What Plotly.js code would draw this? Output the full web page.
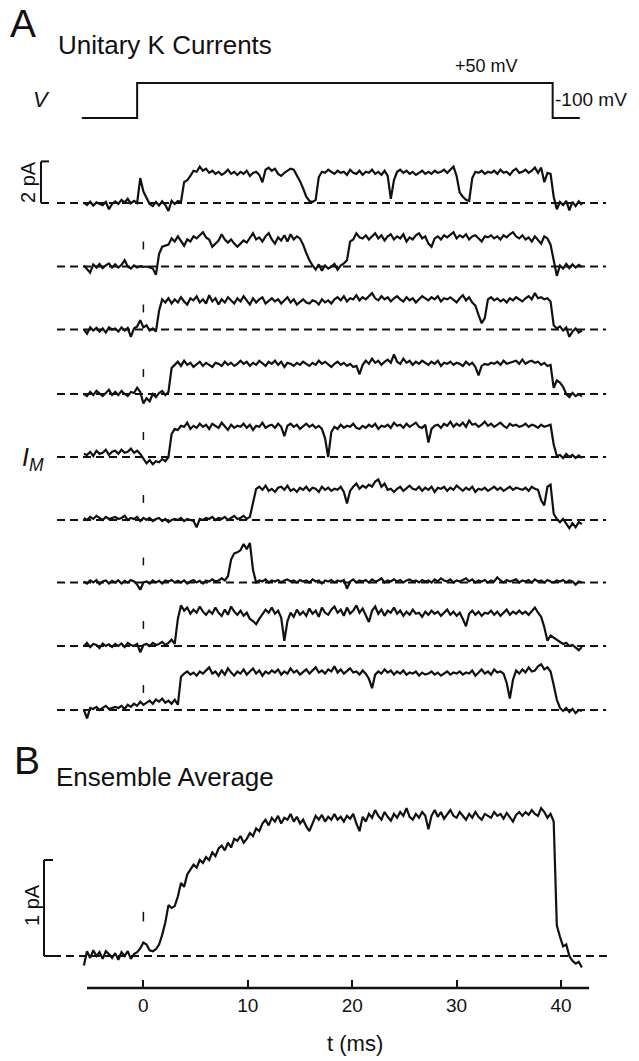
<!DOCTYPE html>
<html><head><meta charset="utf-8">
<script src="https://cdn.plot.ly/plotly-3.0.1.min.js"></script>
<style>html,body{margin:0;padding:0;background:#fff}#chart{width:639px;height:1061px}</style>
</head><body><div id="chart"></div>
<script>
// ---- data (pA, sampled every dt ms starting at t0) ----
const t0 = -5.7, dt = 0.3;
const trace1 = [
0.02,-0.1,0.06,-0.12,0.03,-0.02,-0.1,0.05,-0.3,-0.05,
0.08,-0.04,0.15,0.02,0.2,-0.02,0.1,0.0,1.2,0.55,
0.25,-0.05,-0.15,0.05,-0.12,0.08,-0.1,-0.38,0.1,-0.05,
0.1,0.05,1.0,1.1,1.3,1.55,1.5,1.75,1.55,1.65,
1.45,1.55,1.4,1.5,1.35,1.45,1.6,1.4,1.5,1.35,
1.5,1.4,1.55,1.3,1.45,1.5,1.35,1.0,1.6,1.7,
1.55,1.65,1.4,1.3,1.45,1.55,1.65,1.6,1.35,1.05,
0.7,0.3,0.1,0.05,0.15,1.25,1.5,1.45,1.6,1.5,
1.4,1.55,1.45,1.5,1.35,1.6,1.45,1.4,1.55,1.35,
1.5,1.45,1.6,1.4,1.5,1.35,1.55,1.3,0.2,1.1,
1.5,1.6,1.45,1.55,1.4,1.5,1.35,1.45,1.55,1.4,
1.5,1.4,1.55,1.45,1.5,1.6,1.45,1.6,1.75,1.3,
0.5,0.3,0.15,0.1,1.2,1.5,1.45,1.55,1.4,1.5,
1.45,1.55,1.4,1.6,1.45,1.5,1.35,1.55,1.65,1.45,
1.5,1.6,1.45,1.55,1.7,1.45,1.7,1.0,1.45,1.4,
0.3,-0.3,0.05,-0.1,0.1,-0.35,0.05,-0.15,0.08,-0.1];
const trace2 = [
0.05,-0.1,-0.3,0.1,-0.05,0.12,-0.08,0.05,0.15,-0.05,
0.1,-0.05,0.08,0.3,0.0,-0.1,0.05,-0.05,0.02,-0.02,
0.0,-0.05,-0.1,-0.4,0.6,0.95,1.0,1.05,1.35,1.2,
1.45,1.2,1.0,1.3,1.2,1.45,1.35,1.5,1.65,1.4,
1.3,0.95,1.1,1.25,1.55,1.3,1.15,1.3,1.1,0.95,
1.1,1.25,1.15,1.35,1.6,1.3,1.4,1.2,1.45,1.6,
1.3,1.1,1.4,1.25,1.5,1.2,1.55,1.3,1.45,1.35,
1.05,0.65,0.3,0.05,-0.15,0.1,-0.2,0.05,-0.1,0.0,
0.12,-0.15,0.05,0.15,0.3,1.2,1.3,1.6,1.4,1.35,
1.5,1.3,1.45,1.6,1.35,1.5,1.25,1.45,1.55,1.3,
1.45,1.35,1.55,1.2,1.4,1.3,1.5,1.6,1.35,1.45,
1.1,0.95,1.35,1.45,1.3,1.5,1.4,1.55,1.65,1.35,
1.5,1.4,1.55,1.3,1.45,1.5,1.35,1.2,1.45,1.4,
1.5,1.35,1.45,1.3,1.5,1.4,1.55,1.65,1.45,1.35,
1.5,1.3,1.4,1.2,1.45,1.3,1.1,1.45,1.35,1.05,
0.3,-0.45,0.05,-0.1,0.12,-0.08,0.1,-0.05,0.08,-0.02];
const trace3 = [
0.0,-0.2,0.1,-0.05,0.08,-0.1,0.05,-0.15,0.1,0.0,
0.05,-0.1,0.1,-0.05,0.08,-0.35,0.05,0.15,0.45,0.1,
0.2,-0.05,0.05,-0.1,0.9,1.45,1.3,1.5,1.25,1.45,
1.3,1.55,1.35,1.2,1.5,1.4,1.6,1.3,1.45,1.25,
1.65,1.35,1.5,1.2,1.45,1.3,1.55,1.4,1.25,1.5,
1.35,1.6,1.4,1.2,1.5,1.3,1.45,1.55,1.25,1.4,
1.5,1.35,1.45,1.25,1.4,1.55,1.3,1.45,1.2,1.35,
1.45,1.3,1.25,1.4,1.35,1.2,1.45,1.3,1.4,1.25,
1.45,1.55,1.4,1.6,1.35,1.5,1.45,1.65,1.4,1.55,
1.45,1.6,1.75,1.5,1.4,1.6,1.45,1.55,1.35,1.5,
1.6,1.45,1.35,1.55,1.4,1.5,1.3,1.45,1.6,1.5,
1.4,1.55,1.45,1.6,1.35,1.5,1.45,1.55,1.4,1.3,
1.5,1.65,1.4,1.55,1.3,1.15,0.7,0.3,0.55,1.45,
1.55,1.4,1.5,1.35,1.45,1.3,1.5,1.4,1.55,1.45,
1.35,1.5,1.6,1.45,1.75,1.5,1.55,1.45,1.5,1.35,
0.2,0.05,0.15,-0.05,0.1,-0.35,-0.1,0.05,-0.15,-0.05];
const trace4 = [
0.0,-0.1,0.1,-0.05,0.15,0.0,-0.1,0.05,0.2,-0.05,
0.1,-0.05,0.15,0.0,-0.1,0.1,0.05,0.3,0.1,-0.45,
-0.2,-0.35,0.0,-0.15,0.05,0.15,-0.05,0.1,1.25,1.4,
1.55,1.35,1.6,1.4,1.5,1.3,1.45,1.55,1.35,1.5,
1.4,1.3,1.5,1.45,1.35,1.55,1.4,1.5,1.35,1.45,
1.6,1.45,1.55,1.35,1.5,1.4,1.6,1.45,1.35,1.55,
1.45,1.6,1.4,1.55,1.3,1.5,1.45,1.35,1.5,1.4,
1.55,1.45,1.35,1.5,1.4,1.6,1.45,1.55,1.4,1.3,
1.45,1.55,1.4,1.5,1.35,1.45,1.3,1.35,0.95,1.4,
1.6,1.45,1.7,1.5,1.6,1.4,1.55,1.65,1.5,1.9,
1.55,1.45,1.7,1.5,1.6,1.4,1.55,1.45,1.6,1.5,
1.4,1.55,1.45,1.6,1.35,1.5,1.45,1.55,1.4,1.5,
1.45,1.35,1.55,1.4,1.5,1.3,0.9,1.35,1.45,1.4,
1.5,1.45,1.55,1.4,1.6,1.45,1.5,1.55,1.6,1.45,
1.65,1.45,1.55,1.6,1.5,1.55,1.4,1.5,1.35,1.4,
0.3,0.65,0.55,0.35,0.0,-0.15,0.05,-0.1,0.0,-0.12];
const trace5 = [
0.15,0.1,0.25,0.05,0.3,0.15,0.2,0.35,0.1,0.25,
0.3,0.15,0.35,0.2,0.25,0.4,0.2,0.3,0.15,-0.1,
-0.3,-0.15,-0.35,-0.2,-0.25,-0.1,-0.2,0.0,1.1,1.35,
1.3,1.5,1.45,1.65,1.35,1.5,1.4,1.6,1.45,1.55,
1.35,1.6,1.5,1.4,1.65,1.45,1.3,1.55,1.4,1.5,
1.45,1.6,1.4,1.55,1.3,1.5,1.45,1.65,1.4,1.5,
1.55,1.4,1.6,1.45,1.0,1.5,1.6,1.45,1.55,1.35,
1.5,1.6,1.45,1.55,1.4,1.5,1.35,0.9,0.0,1.2,
1.45,1.35,1.55,1.4,1.5,1.45,1.6,1.4,1.35,1.5,
1.4,1.55,1.45,1.6,1.35,1.5,1.45,1.55,1.4,1.65,
1.5,1.55,1.4,1.6,1.45,1.55,1.65,1.45,1.4,1.55,
0.7,1.35,1.5,1.55,1.4,1.6,1.5,1.7,1.45,1.6,
1.5,1.65,1.45,1.75,1.55,1.6,1.45,1.55,1.7,1.5,
1.6,1.45,1.55,1.65,1.5,1.4,1.6,1.5,1.55,1.45,
1.5,1.6,1.45,1.55,1.5,1.4,1.55,1.45,1.5,1.55,
0.6,0.05,0.1,-0.05,0.15,0.0,0.1,-0.05,0.08,-0.05];
const trace6 = [
0.1,0.0,0.15,0.05,0.2,0.1,0.0,0.15,0.05,0.1,
0.15,0.05,0.1,0.2,0.0,0.1,0.05,0.15,-0.05,0.1,
0.0,0.1,-0.05,0.05,0.1,-0.05,0.05,-0.1,0.0,0.05,
0.0,0.1,-0.05,0.05,0.0,-0.05,-0.35,0.05,0.0,0.1,
0.05,0.15,0.0,0.1,0.05,0.15,0.0,0.1,0.2,0.05,
0.1,0.2,0.05,0.15,0.9,1.5,1.6,1.45,1.65,1.4,
1.5,1.35,1.55,1.6,1.45,1.65,1.4,1.5,1.35,1.55,
1.45,1.6,1.4,1.55,1.5,1.35,1.6,1.45,1.55,1.4,
1.5,1.45,1.6,1.35,0.8,1.4,1.6,1.75,1.5,1.65,
1.55,1.7,1.6,1.85,1.95,1.6,1.75,1.45,1.5,1.35,
1.5,1.6,1.4,1.55,1.65,1.5,1.45,1.6,1.4,1.55,
1.45,1.6,1.35,1.55,1.5,1.6,1.4,1.55,1.45,1.65,
1.5,1.4,1.55,1.45,1.6,1.35,1.5,1.45,1.55,1.4,
1.5,1.6,1.45,1.55,1.4,1.5,1.6,1.45,1.55,1.5,
1.45,1.55,1.4,1.6,1.5,1.45,0.95,0.7,1.6,1.7,
0.3,0.05,-0.1,0.05,-0.2,-0.4,-0.15,-0.35,-0.1,-0.2];
const trace7 = [
0.05,-0.05,0.1,0.0,0.12,-0.08,0.05,0.1,-0.05,0.08,
0.0,0.1,-0.05,0.08,0.0,0.12,0.05,-0.1,-0.35,0.0,
0.05,-0.05,0.1,0.0,0.08,-0.05,0.1,0.05,0.12,0.0,
0.08,0.0,0.1,-0.05,0.05,0.12,0.0,0.08,-0.05,0.1,
0.05,0.15,0.05,0.1,0.2,0.1,0.3,1.1,1.4,1.45,
1.55,1.85,1.6,1.9,0.6,0.0,0.1,0.05,0.15,0.0,
0.1,0.05,0.12,0.0,0.1,0.15,0.05,0.1,0.0,0.12,
0.05,0.1,0.0,0.15,0.05,0.1,-0.05,0.1,0.05,0.12,
0.0,0.1,0.05,0.12,-0.3,0.05,0.15,0.0,0.1,0.05,
0.12,0.0,0.15,0.05,0.1,0.2,0.0,0.1,0.05,0.15,
0.05,0.12,0.0,0.1,0.15,0.05,0.1,0.0,0.12,0.05,
0.1,0.0,0.15,0.05,0.2,0.1,0.05,0.15,0.0,0.1,
0.05,0.12,0.2,0.05,0.15,0.0,0.1,0.05,0.12,0.0,
0.1,0.05,0.25,0.1,0.0,0.12,0.05,0.1,0.15,0.0,
0.1,0.05,0.12,0.0,0.15,0.05,0.1,0.0,0.12,0.05,
0.0,0.1,0.05,0.12,0.0,0.1,0.05,-0.1,0.05,0.0];
const trace8 = [
0.0,0.15,-0.05,0.1,0.05,-0.1,0.12,0.0,0.08,-0.05,
0.1,0.0,0.12,-0.05,0.15,0.05,0.0,0.1,-0.3,0.05,
0.1,0.0,0.15,0.05,0.1,0.2,0.05,0.15,0.3,0.1,
1.3,1.95,1.7,1.85,1.55,1.75,1.6,1.9,1.65,1.5,
1.7,1.55,1.85,1.6,1.45,1.75,1.5,1.9,1.65,1.5,
1.7,1.45,1.6,1.3,1.2,1.05,1.3,1.5,1.75,1.6,
1.85,1.55,1.7,1.35,0.25,1.2,1.6,1.4,1.75,1.5,
1.65,1.45,1.8,1.55,1.7,1.4,1.85,1.6,1.5,1.75,
1.9,1.6,1.75,1.45,1.85,1.55,1.7,1.95,1.6,1.8,
1.5,1.15,1.7,1.9,1.55,1.75,1.45,1.7,1.6,1.85,
1.55,1.7,1.45,1.65,1.5,1.75,1.55,1.6,1.4,1.65,
1.5,1.7,1.55,1.65,1.45,1.6,1.75,1.5,1.65,1.45,
1.6,1.3,0.95,1.55,1.7,1.5,1.65,1.45,1.6,1.55,
1.7,1.5,1.65,1.45,1.6,1.75,1.5,1.65,1.55,1.7,
1.55,1.65,1.5,1.7,1.85,1.6,1.4,0.9,0.25,0.5,
0.4,0.3,0.2,0.1,0.15,0.0,0.05,-0.1,-0.2,-0.05];
const trace9 = [
0.0,-0.4,0.1,0.05,0.15,0.0,0.1,0.2,0.05,0.1,
0.15,0.1,0.2,0.05,0.25,0.15,0.3,0.2,0.4,0.25,
0.35,0.45,0.3,0.5,0.4,0.55,0.35,0.45,0.3,0.5,
0.25,1.6,1.75,1.85,1.7,1.8,1.65,1.85,1.75,1.9,
2.05,1.75,1.85,1.65,1.9,1.7,2.0,1.8,1.65,1.85,
1.75,1.95,1.7,1.85,2.0,1.75,1.9,1.65,1.85,1.75,
1.9,1.8,1.95,1.7,1.85,1.75,2.0,1.8,1.9,1.7,
1.85,1.95,1.75,1.9,2.05,1.8,1.9,1.75,1.95,1.85,
2.1,1.8,1.95,1.75,1.9,2.0,1.8,1.85,1.7,1.9,
1.75,1.5,1.05,1.7,1.85,1.75,1.95,1.8,1.9,1.7,
1.85,1.75,1.9,1.7,1.8,1.75,1.85,1.65,1.8,1.7,
1.75,1.85,1.7,1.8,1.65,1.75,1.85,1.7,1.8,1.75,
1.85,1.7,1.8,1.75,1.9,1.65,1.8,1.95,1.75,1.85,
1.7,1.95,1.8,1.85,1.75,1.3,0.55,1.45,1.9,1.75,
1.95,1.8,2.05,1.85,1.9,2.1,2.2,1.95,2.05,1.85,
1.2,0.5,0.1,-0.05,0.1,-0.1,0.05,-0.15,0.0,-0.05];
const ensembleAvg = [
-0.1,0.05,-0.02,0.06,0.0,0.04,-0.03,0.05,0.02,-0.02,
0.03,-0.04,0.04,0.0,0.05,-0.03,0.02,0.04,0.08,0.14,
0.12,0.06,0.05,0.07,0.12,0.22,0.35,0.53,0.5,0.52,
0.62,0.76,0.72,0.85,0.9,0.95,0.92,1.0,0.97,1.03,
1.0,1.08,1.04,1.12,1.15,1.1,1.18,1.13,1.22,1.2,
1.25,1.18,1.22,1.28,1.25,1.33,1.3,1.38,1.42,1.36,
1.44,1.4,1.46,1.38,1.44,1.42,1.48,1.4,1.45,1.38,
1.42,1.35,1.3,1.38,1.46,1.42,1.47,1.4,1.45,1.42,
1.48,1.42,1.45,1.4,1.46,1.43,1.48,1.38,1.3,1.45,
1.4,1.48,1.44,1.52,1.46,1.42,1.5,1.45,1.41,1.48,
1.44,1.5,1.46,1.54,1.45,1.42,1.48,1.44,1.5,1.46,
1.32,1.46,1.52,1.45,1.5,1.43,1.48,1.52,1.46,1.44,
1.5,1.46,1.42,1.48,1.44,1.5,1.45,1.42,1.48,1.46,
1.44,1.5,1.46,1.48,1.43,1.49,1.45,1.4,1.47,1.5,
1.46,1.5,1.47,1.52,1.48,1.46,1.54,1.5,1.44,1.48,
1.4,0.32,0.2,0.1,0.12,0.0,-0.05,-0.08,-0.06,-0.12];
const voltTime = [-5.9,-0.6,-0.6,39.2,39.2,41.8];
const voltLevel = [-100,-100,50,50,-100,-100];
const xTickVals = [0,10,20,30,40];
const xTickText = ['0','10','20','30','40'];
const unitary = [trace1,trace2,trace3,trace4,trace5,trace6,trace7,trace8,trace9];

// ---- geometry (pixels in the 639x1061 page) ----
const W=639, H=1061;
const pxT0=143.4, pxPerMs=10.44;
const xRange=[-pxT0/pxPerMs,(W-pxT0)/pxPerMs];
const aBase=[203,266.5,329.5,394,457,520,582.5,646,710];
const aPx=20.8;
const aRange=[(aBase[0]-H)/aPx, aBase[0]/aPx];
const offs=aBase.map(b=>(aBase[0]-b)/aPx);
const bBase=956, bPx=96;
const bRange=[(bBase-H)/bPx, bBase/bPx];
const vTop=83, vBot=118, vPx=(vBot-vTop)/150;
const vRange=[-100-(H-vBot)/vPx, -100+vBot/vPx];
const axisY=988;
const tx=p=>(p-pxT0)/pxPerMs;   // page px -> ms
const py=p=>1-p/H;              // page px -> paper
const FONT='"Liberation Sans", Arial, Helvetica, sans-serif';
const INK='#111';
const LW=2.2;

const time = trace1.map((_,i)=>+(t0+i*dt).toFixed(2));
const data=[];
unitary.forEach((tr,k)=>{
  data.push({x:time,y:tr.map(v=>v+offs[k]),type:'scatter',mode:'lines',xaxis:'x',yaxis:'y',
    line:{color:INK,width:LW},hoverinfo:'skip'});
});
data.push({x:time,y:ensembleAvg,type:'scatter',mode:'lines',xaxis:'x',yaxis:'y2',
  line:{color:INK,width:LW},hoverinfo:'skip'});
data.push({x:voltTime,y:voltLevel,type:'scatter',mode:'lines',xaxis:'x',yaxis:'y3',
  line:{color:INK,width:2},hoverinfo:'skip'});

const shapes=[];
const dash={color:INK,width:2,dash:'8px,5px'};
offs.forEach((o,k)=>{
  shapes.push({type:'line',xref:'x',yref:'y',x0:tx(57),x1:tx(606),y0:o,y1:o,line:dash,layer:'below'});
  if(k>0) shapes.push({type:'line',xref:'x',yref:'y',x0:0,x1:0,y0:o+0.82,y1:o+1.2,line:{color:INK,width:1.5}});
});
shapes.push({type:'line',xref:'x',yref:'y2',x0:tx(53),x1:tx(610),y0:0,y1:0,line:dash,layer:'below'});
shapes.push({type:'line',xref:'x',yref:'y2',x0:0,x1:0,y0:0.36,y1:0.46,line:{color:INK,width:1.5}});
// scale bars
const bar={color:INK,width:2};
shapes.push({type:'line',xref:'x',yref:'y',x0:tx(41),x1:tx(41),y0:0,y1:2,line:bar});
shapes.push({type:'line',xref:'x',yref:'y',x0:tx(41),x1:tx(49),y0:2,y1:2,line:bar});
shapes.push({type:'line',xref:'x',yref:'y',x0:tx(41),x1:tx(49),y0:0,y1:0,line:bar});
shapes.push({type:'line',xref:'x',yref:'y2',x0:tx(44),x1:tx(44),y0:0,y1:1,line:bar});
shapes.push({type:'line',xref:'x',yref:'y2',x0:tx(44),x1:tx(53),y0:1,y1:1,line:bar});
shapes.push({type:'line',xref:'x',yref:'y2',x0:tx(44),x1:tx(53),y0:0,y1:0,line:bar});
// time axis line
shapes.push({type:'line',xref:'x',yref:'paper',x0:tx(87),x1:tx(589),y0:py(axisY),y1:py(axisY),line:{color:INK,width:2.4}});

const ann=(text,xp,yp,size,opts={})=>Object.assign({text,xref:'paper',yref:'paper',x:xp/W,y:py(yp),
  showarrow:false,font:{family:FONT,size,color:INK},xanchor:'left',yanchor:'middle'},opts);
const annotations=[
  ann('A',8,24,39),
  ann('Unitary K Currents',56,45,26),
  ann('<i>V</i>',41,100,22,{xanchor:'center'}),
  ann('+50 mV',453,66,18),
  ann('-100 mV',553,100,19),
  ann('2 pA',28,182,20,{xanchor:'center',textangle:-90}),
  ann('<i>I<sub>M</sub></i>',33,459,25,{xanchor:'center'}),
  ann('B',12,760,39),
  ann('Ensemble Average',54,777,26),
  ann('1 pA',32,905,20,{xanchor:'center',textangle:-90}),
  ann('t (ms)',355,1043,22,{xanchor:'center'})
];

const layout={
  width:W,height:H,margin:{l:0,r:0,t:0,b:0},
  paper_bgcolor:'#fff',plot_bgcolor:'#fff',showlegend:false,
  font:{family:FONT,color:INK},
  xaxis:{range:xRange,domain:[0,1],anchor:'free',position:py(axisY),
    showgrid:false,zeroline:false,showline:false,
    tickvals:xTickVals,ticktext:xTickText,ticks:'inside',ticklen:8,tickwidth:2,tickcolor:INK,
    ticklabelstandoff:4,
    tickfont:{family:FONT,size:19,color:INK}},
  yaxis:{domain:[0,1],range:aRange,visible:false},
  yaxis2:{overlaying:'y',range:bRange,visible:false},
  yaxis3:{overlaying:'y',range:vRange,visible:false},
  shapes,annotations
};
Plotly.newPlot('chart',data,layout,{staticPlot:true,displayModeBar:false});
</script></body></html>
